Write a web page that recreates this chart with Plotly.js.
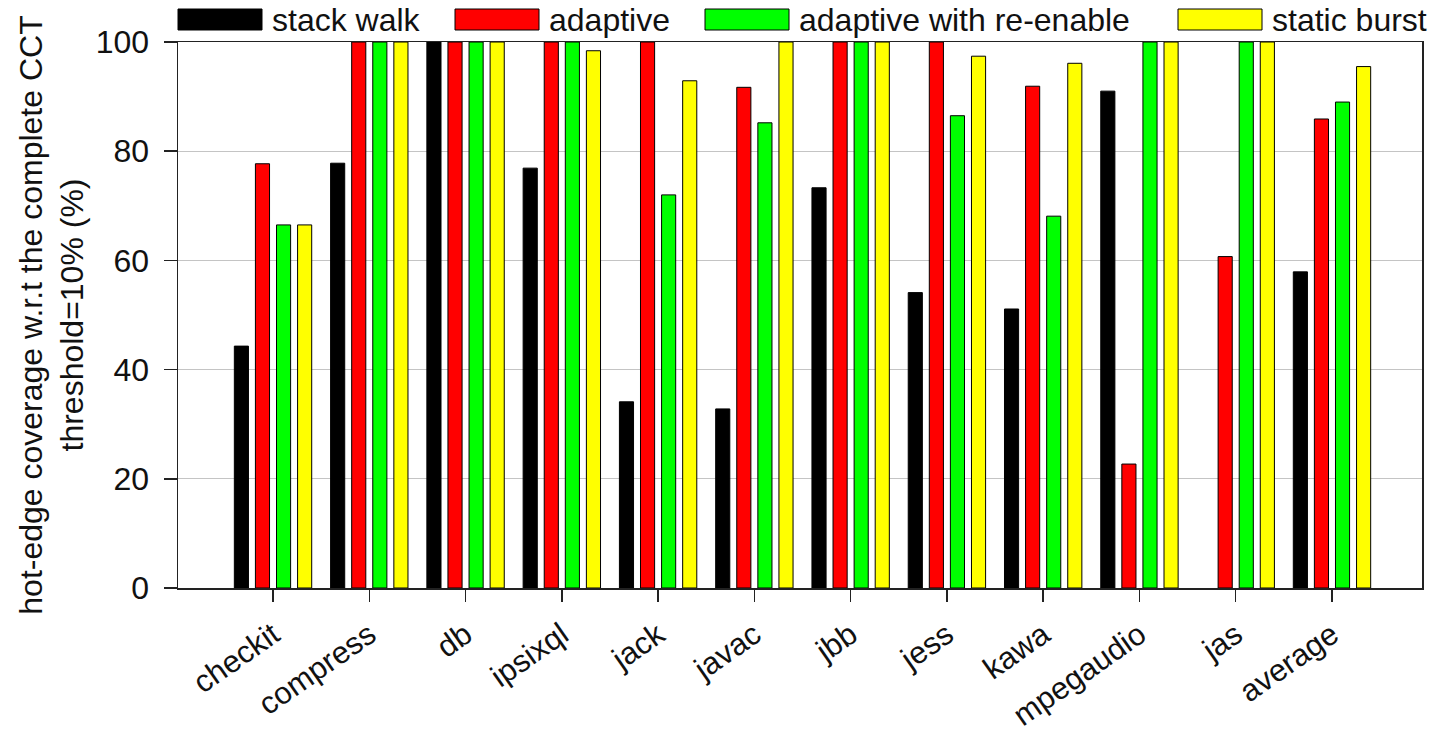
<!DOCTYPE html>
<html>
<head>
<meta charset="utf-8">
<script src="https://cdn.plot.ly/plotly-3.0.1.min.js"></script>
<style>
  html, body { margin: 0; padding: 0; background: #ffffff; }
  #chart { width: 1439px; height: 737px; }
</style>
</head>
<body>
<div id="chart"></div>
<script>
// ---- data ----
const categories = ["checkit", "compress", "db", "ipsixql", "jack", "javac", "jbb", "jess", "kawa", "mpegaudio", "jas", "average"];
const seriesNames = ["stack walk", "adaptive", "adaptive with re-enable", "static burst"];
const stackWalk   = [44.3, 77.8, 100, 76.9, 34.1, 32.8, 73.3, 54.1, 51.1, 91.0, 0, 57.9];
const adaptive    = [77.7, 100, 100, 100, 100, 91.7, 100, 100, 91.9, 22.7, 60.7, 85.9];
const reEnable    = [66.5, 100, 100, 100, 72.0, 85.2, 100, 86.5, 68.1, 100, 100, 89.0];
const staticBurst = [66.5, 100, 100, 98.4, 92.9, 100, 100, 97.4, 96.1, 100, 100, 95.5];
const yTickValues = [0, 20, 40, 60, 80, 100];
const yTitleLines = ["hot-edge coverage w.r.t the complete CCT", "threshold=10% (%)"];

// ---- styling ----
const colors = ["#000000", "#ff0000", "#00ff00", "#ffff00"];
const seriesValues = [stackWalk, adaptive, reEnable, staticBurst];
const FONT = "Liberation Sans, Arial, sans-serif";
const FS = 32;

const W = 1439, H = 737;
const plotL = 178, plotR = 1422, plotT = 42, plotB = 588;

const traces = seriesNames.map((name, i) => ({
  type: "bar",
  name: name,
  x: categories,
  y: seriesValues[i],
  marker: {
    color: colors[i],
    line: { color: "#000000", width: seriesValues[i].map(v => (v > 0 ? 1 : 0)) }
  },
  showlegend: false,
  hoverinfo: "x+y+name"
}));

// custom legend with wide swatches (positions in pixels, converted to paper coords)
const px2x = px => (px - plotL) / (plotR - plotL);
const py2y = py => (plotB - py) / (plotB - plotT);
const legendSwatchLeft = [178, 455, 705, 1178];
const swW = 84, swTop = 9, swBot = 30;
const shapes = [];
const annotations = [];
seriesNames.forEach((name, i) => {
  const l = legendSwatchLeft[i];
  shapes.push({
    type: "rect", xref: "paper", yref: "paper",
    x0: px2x(l), x1: px2x(l + swW), y0: py2y(swBot), y1: py2y(swTop),
    fillcolor: colors[i], line: { color: "#000000", width: 1 }
  });
  annotations.push({
    xref: "paper", yref: "paper", x: px2x(l + swW + 8), y: py2y(20),
    xanchor: "left", yanchor: "middle", showarrow: false,
    text: name, font: { family: FONT, size: FS, color: "#111111" }
  });
});

const layout = {
  width: W, height: H,
  margin: { l: plotL, r: W - plotR, t: plotT, b: H - plotB, pad: 0 },
  paper_bgcolor: "#ffffff",
  plot_bgcolor: "#ffffff",
  barmode: "group",
  bargap: 0.124,
  bargroupgap: 0.33,
  font: { family: FONT, size: FS, color: "#111111" },
  xaxis: {
    type: "category",
    range: [-0.987, 11.935],
    tickangle: -35,
    ticks: "outside",
    ticklen: 12,
    tickwidth: 1.5,
    tickcolor: "#222222",
    ticklabelstandoff: 3,
    showline: true, linecolor: "#222222", linewidth: 1.5, mirror: true,
    showgrid: false,
    zeroline: false,
    automargin: false,
    tickfont: { family: FONT, size: 31, color: "#111111" }
  },
  yaxis: {
    range: [0, 100],
    tickvals: yTickValues,
    ticktext: yTickValues.map(String),
    ticks: "outside",
    ticklen: 13,
    tickwidth: 1.5,
    tickcolor: "#222222",
    ticklabelstandoff: 8,
    showline: true, linecolor: "#222222", linewidth: 1.5, mirror: true,
    showgrid: true, gridcolor: "#c4c4c4", gridwidth: 1.3,
    zeroline: false,
    automargin: false,
    tickfont: { family: FONT, size: FS, color: "#111111" },
    title: { text: yTitleLines.join("<br>"), font: { family: FONT, size: FS, color: "#111111" }, standoff: 2 }
  },
  shapes: shapes,
  annotations: annotations
};

Plotly.newPlot("chart", traces, layout, { displayModeBar: false, staticPlot: true });
</script>
</body>
</html>
